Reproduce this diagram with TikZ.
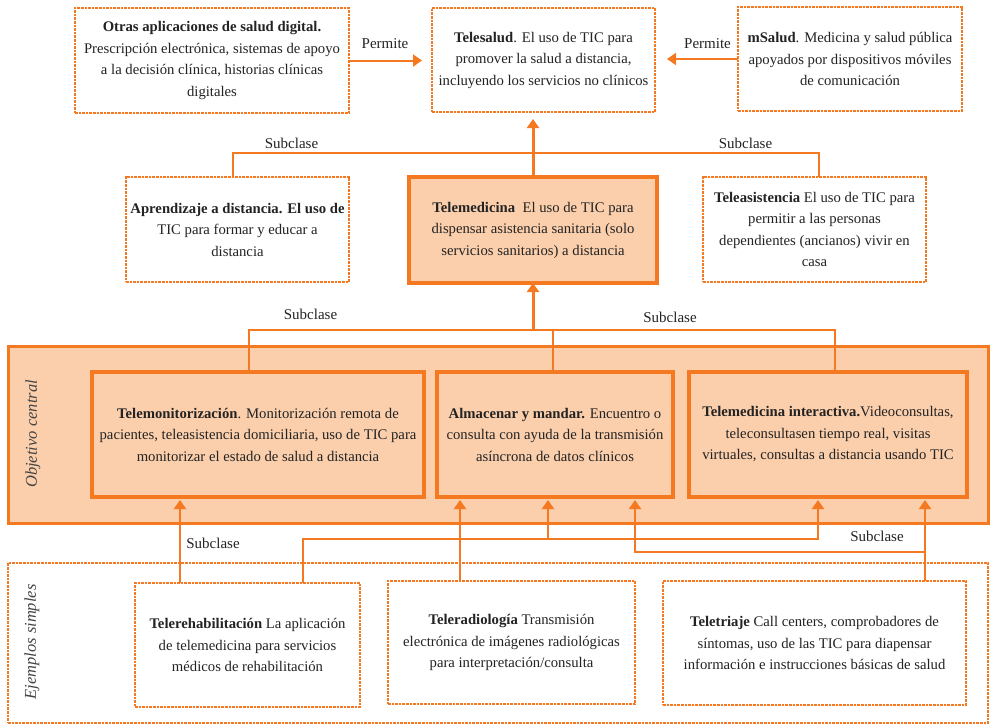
\documentclass[tikz,border=0pt]{standalone}
\usepackage{fontspec}
\setmainfont{Liberation Serif}
\usetikzlibrary{arrows.meta,positioning}
\definecolor{naranja}{RGB}{244,121,32}
\definecolor{melocoton}{RGB}{251,207,172}
\definecolor{texto}{RGB}{35,35,35}

\begin{document}
\begin{tikzpicture}[
  x=1pt,y=-1pt,
  font=\fontsize{14.7}{21.5}\selectfont,
  dbox/.style={draw=naranja,line width=1.6pt,dash pattern=on 2.6pt off 1pt,fill=white,align=center,inner sep=0pt,outer sep=0pt,text=texto},
  tbox/.style={draw=naranja,line width=3.2pt,fill=melocoton,align=center,inner sep=0pt,outer sep=0pt,text=texto},
  band/.style={draw=naranja,inner sep=0pt,outer sep=0pt},
  conn/.style={draw=naranja,line width=2pt},
  arr/.style={conn,-{Triangle[width=12pt,length=9pt]}},
  arrthick/.style={arr,line width=3pt},
  lbl/.style={font=\fontsize{15}{16}\selectfont,text=texto,inner sep=0pt},
  side/.style={rotate=90,font=\itshape\fontsize{16.5}{18}\selectfont,text=texto!85},
]
\useasboundingbox (0,0) rectangle (990,724);

\node[band,fill=melocoton,line width=3pt,minimum width=980,minimum height=177] (central) at (498,434.5) {};
\node[band,fill=white,line width=1.4pt,dash pattern=on 2.6pt off 1pt,minimum width=980,minimum height=160] (simples) at (498,643) {};
\node[side] (objlbl) at (33,434) {Objetivo central};
\node[side] (ejlbl) at (32,642) {Ejemplos simples};

\node[dbox,minimum width=274,minimum height=105] (otras) at (212,60.5) {
  \textbf{Otras aplicaciones de salud digital.}\\
  Prescripción electrónica, sistemas de apoyo\\
  a la decisión clínica, historias clínicas\\
  digitales};
\node[dbox,minimum width=223,minimum height=104] (telesalud) at (543.5,60) {
  \textbf{Telesalud}. El uso de TIC para\\
  promover la salud a distancia,\\
  incluyendo los servicios no clínicos};
\node[dbox,minimum width=224,minimum height=104] (msalud) at (850,59) {
  \textbf{mSalud}. Medicina y salud pública\\
  apoyados por dispositivos móviles\\
  de comunicación};

\node[dbox,minimum width=223,minimum height=105] (aprendizaje) at (237.5,229.5) {
  \textbf{Aprendizaje a distancia. El uso de}\\
  TIC para formar y educar a\\
  distancia};
\node[tbox,minimum width=248,minimum height=106] (telemedicina) at (533,230) {
  \textbf{Telemedicina}\enspace El uso de TIC para\\
  dispensar asistencia sanitaria (solo\\
  servicios sanitarios) a distancia};
\node[dbox,minimum width=223,minimum height=105] (teleasistencia) at (814.5,229.5) {
  \textbf{Teleasistencia} El uso de TIC para\\
  permitir a las personas\\
  dependientes (ancianos) vivir en\\
  casa};

\node[tbox,minimum width=332,minimum height=125] (telemonit) at (258,434.5) {
  \textbf{Telemonitorización}. Monitorización remota de\\
  pacientes, teleasistencia domiciliaria, uso de TIC para\\
  monitorizar el estado de salud a distancia};
\node[tbox,minimum width=236,minimum height=125] (almacenar) at (555,434.5) {
  \textbf{Almacenar y mandar.} Encuentro o\\
  consulta con ayuda de la transmisión\\
  asíncrona de datos clínicos};
\node[tbox,minimum width=278,minimum height=125] (interactiva) at (828,434.5) {
  \textbf{Telemedicina interactiva.}Videoconsultas,\\
  teleconsultasen tiempo real, visitas\\
  virtuales, consultas a distancia usando TIC};

\node[dbox,minimum width=225,minimum height=124] (telerehab) at (247.5,645) {
  \textbf{Telerehabilitación} La aplicación\\
  de telemedicina para servicios\\
  médicos de rehabilitación};
\node[dbox,minimum width=247,minimum height=123] (telerradio) at (511.5,642.5) {
  \textbf{Teleradiología} Transmisión\\
  electrónica de imágenes radiológicas\\
  para interpretación/consulta};
\node[dbox,minimum width=303,minimum height=124] (teletriaje) at (814.5,643) {
  \textbf{Teletriaje} Call centers, comprobadores de\\
  síntomas, uso de las TIC para diapensar\\
  información e instrucciones básicas de salud};

\draw[arr,shorten >=10pt] (otras.east) -- (otras.east -| telesalud.west);
\draw[arr,shorten >=12pt] (msalud.west) -- (msalud.west -| telesalud.east);
\node[lbl] (permite1) at (385,44) {Permite};
\node[lbl] (permite2) at (707.5,44) {Permite};

\coordinate (sub1) at (533,153);
\draw[arrthick,shorten >=7pt] (telemedicina.north) -- (telemedicina.north |- telesalud.south);
\draw[conn] ([xshift=-4.5]aprendizaje.north) |- (sub1) -| ([xshift=4.5]teleasistencia.north);
\node[lbl] (subclase1) at (291.5,143) {Subclase};
\node[lbl] (subclase2) at (745.5,143) {Subclase};

\coordinate (sub2) at (533,330);
\draw[conn] ([xshift=-9]telemonit.north) |- (sub2) -| ([xshift=7]interactiva.north);
\draw[conn] ([xshift=-2]almacenar.north) -- ([xshift=-2]almacenar.north |- sub2);
\draw[arrthick] (sub2) -- (telemedicina.south);
\node[lbl] (subclase3) at (310.5,314) {Subclase};
\node[lbl] (subclase4) at (670,317) {Subclase};

\coordinate (rama1) at (818,539);
\coordinate (rama2) at (548,539);
\coordinate (rama3) at (635,552);
\draw[arr,shorten >=3pt] ([xshift=-67.5]telerehab.north) -- ([xshift=-67.5]telerehab.north |- telemonit.south);
\draw[arr,shorten >=3pt] ([xshift=55.5]telerehab.north) |- (rama1) -- (rama1 |- interactiva.south);
\draw[arr,shorten >=3pt] (rama2) -- (rama2 |- almacenar.south);
\draw[arr,shorten >=3pt] ([xshift=-51.5]telerradio.north) -- ([xshift=-51.5]telerradio.north |- almacenar.south);
\draw[arr,shorten >=3pt] ([xshift=110.5]teletriaje.north) -- ([xshift=110.5]teletriaje.north |- interactiva.south);
\draw[arr,shorten >=3pt] ([xshift=110.5]teletriaje.north |- rama3) -- (rama3) -- (rama3 |- almacenar.south);
\node[lbl] (subclase5) at (213,543) {Subclase};
\node[lbl] (subclase6) at (877,536) {Subclase};

\end{tikzpicture}
\end{document}
